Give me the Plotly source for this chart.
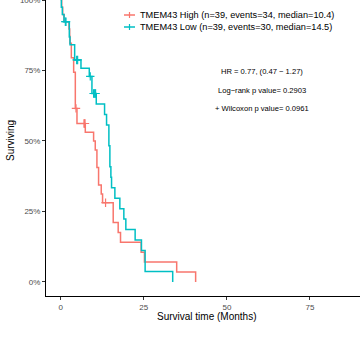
import plotly.graph_objects as go

# ---- data ----
high_event_times = [0.3, 0.6, 1.0, 2.5, 2.7, 2.8, 3.2, 3.2, 3.9, 3.9,
                    4.4, 4.4, 4.4, 4.4, 4.4, 4.9, 4.9, 7.4, 9.9, 10.4,
                    10.9, 10.9, 11.4, 11.4, 12.2, 12.6, 15.8, 15.8, 17.3, 18.0,
                    24.2, 25.2, 34.9, 40.6]
high_censor_times = [4.6, 7.0, 7.2, 7.3, 13.5]

low_event_times = [0.2, 0.5, 1.0, 2.6, 2.6, 2.8, 4.2, 4.2, 6.1, 8.6,
                   9.4, 9.4, 10.7, 13.2, 13.8, 14.5, 14.5, 14.8, 14.8, 15.1,
                   15.3, 16.3, 17.8, 19.0, 19.6, 22.4, 24.3, 25.4, 25.4, 33.7]
low_censor_times = [1.4, 1.6, 4.8, 5.1, 8.9, 9.9, 10.1, 10.3, 10.5]

group_names = ["TMEM43 High (n=39, events=34, median=10.4)",
               "TMEM43 Low (n=39, events=30, median=14.5)"]
group_colors = ["#F8766D", "#00BFC4"]

x_ticks = [0, 25, 50, 75]
y_ticks = [0, 0.25, 0.5, 0.75, 1.0]
y_tick_labels = ["0%", "25%", "50%", "75%", "100%"]

stat_lines = ["HR = 0.77, (0.47 \u2212 1.27)",
              "Log\u2212rank p value= 0.2903",
              "+ Wilcoxon p value= 0.0961"]


def kaplan_meier(events, censors):
    recs = sorted([(t, 1) for t in events] + [(t, 0) for t in censors])
    times = sorted(set(t for t, _ in recs))
    n = len(recs)
    s = 1.0
    xs, ys = [0.0], [1.0]
    cx, cy = [], []
    for t in times:
        d = sum(1 for tt, e in recs if tt == t and e == 1)
        c = sum(1 for tt, e in recs if tt == t and e == 0)
        if d:
            s = s * (n - d) / n
            xs.append(t)
            ys.append(s)
        if c:
            cx.append(t)
            cy.append(s)
        n -= d + c
    return xs, ys, cx, cy


FONT = "Liberation Sans, Arial, Helvetica, sans-serif"
W, H = 360, 344
ML, MR, MT, MB = 46, 0, 0, 48
pw, ph = W - ML - MR, H - MT - MB


def px_x(x):
    return (x - ML) / pw


def px_y(y):
    return (H - MB - y) / ph


fig = go.Figure()

groups = [(high_event_times, high_censor_times), (low_event_times, low_censor_times)]
for (ev, ce), name, col in zip(groups, group_names, group_colors):
    xs, ys, cx, cy = kaplan_meier(ev, ce)
    fig.add_trace(go.Scatter(x=xs, y=ys, mode="lines", name=name,
                             line=dict(color=col, width=1.5, shape="hv"),
                             showlegend=False, hoverinfo="skip"))
    fig.add_trace(go.Scatter(x=cx, y=cy, mode="markers", name=name,
                             marker=dict(symbol="cross-thin", size=6, line=dict(color=col, width=1.2)),
                             showlegend=False, hoverinfo="skip"))

# legend (keys: short line with a + in the middle)
legend_rows = [15, 27]
for name, col, ry in zip(group_names, group_colors, legend_rows):
    fig.add_shape(type="line", xref="paper", yref="paper",
                  x0=px_x(124), x1=px_x(135), y0=px_y(ry), y1=px_y(ry),
                  line=dict(color=col, width=1.5))
    fig.add_shape(type="line", xref="paper", yref="paper",
                  x0=px_x(129.5), x1=px_x(129.5), y0=px_y(ry - 3), y1=px_y(ry + 3),
                  line=dict(color=col, width=1.2))
    fig.add_annotation(text=name, x=px_x(138), y=px_y(ry), xref="paper", yref="paper",
                       showarrow=False, xanchor="left", yanchor="middle",
                       font=dict(family=FONT, size=9.2, color="black"))

for txt, ypix in zip(stat_lines, [71, 90, 109]):
    fig.add_annotation(text=txt, x=px_x(262), y=px_y(ypix), xref="paper", yref="paper",
                       showarrow=False, xanchor="center", yanchor="middle",
                       font=dict(family=FONT, size=7.6, color="black"))

fig.add_annotation(text="Survival time (Months)", x=px_x(206), y=px_y(316.5), xref="paper", yref="paper",
                   showarrow=False, xanchor="center", yanchor="middle",
                   font=dict(family=FONT, size=10, color="black"))
fig.add_annotation(text="Surviving", x=px_x(10), y=px_y(141), xref="paper", yref="paper",
                   showarrow=False, xanchor="center", yanchor="middle", textangle=-90,
                   font=dict(family=FONT, size=10, color="black"))

fig.update_layout(
    width=W, height=H,
    margin=dict(l=ML, r=MR, t=MT, b=MB, pad=0, autoexpand=False),
    paper_bgcolor="white", plot_bgcolor="white",
    font=dict(family=FONT),
    showlegend=False,
    xaxis=dict(range=[-4.42, 90.05], tickvals=x_ticks, ticks="outside", ticklen=3,
               tickcolor="#333333", tickwidth=0.8, showline=True, linecolor="black", linewidth=1,
               showgrid=False, zeroline=False, automargin=False,
               tickfont=dict(family=FONT, size=8, color="#4D4D4D")),
    yaxis=dict(range=[-0.05, 1.0], tickvals=y_ticks, ticktext=y_tick_labels, ticks="outside",
               ticklen=3, tickcolor="#333333", tickwidth=0.8, showline=True, linecolor="black",
               linewidth=1, showgrid=False, zeroline=False, automargin=False,
               ticklabeloverflow="allow",
               tickfont=dict(family=FONT, size=8, color="#4D4D4D")),
)

fig.write_html("out.html")
